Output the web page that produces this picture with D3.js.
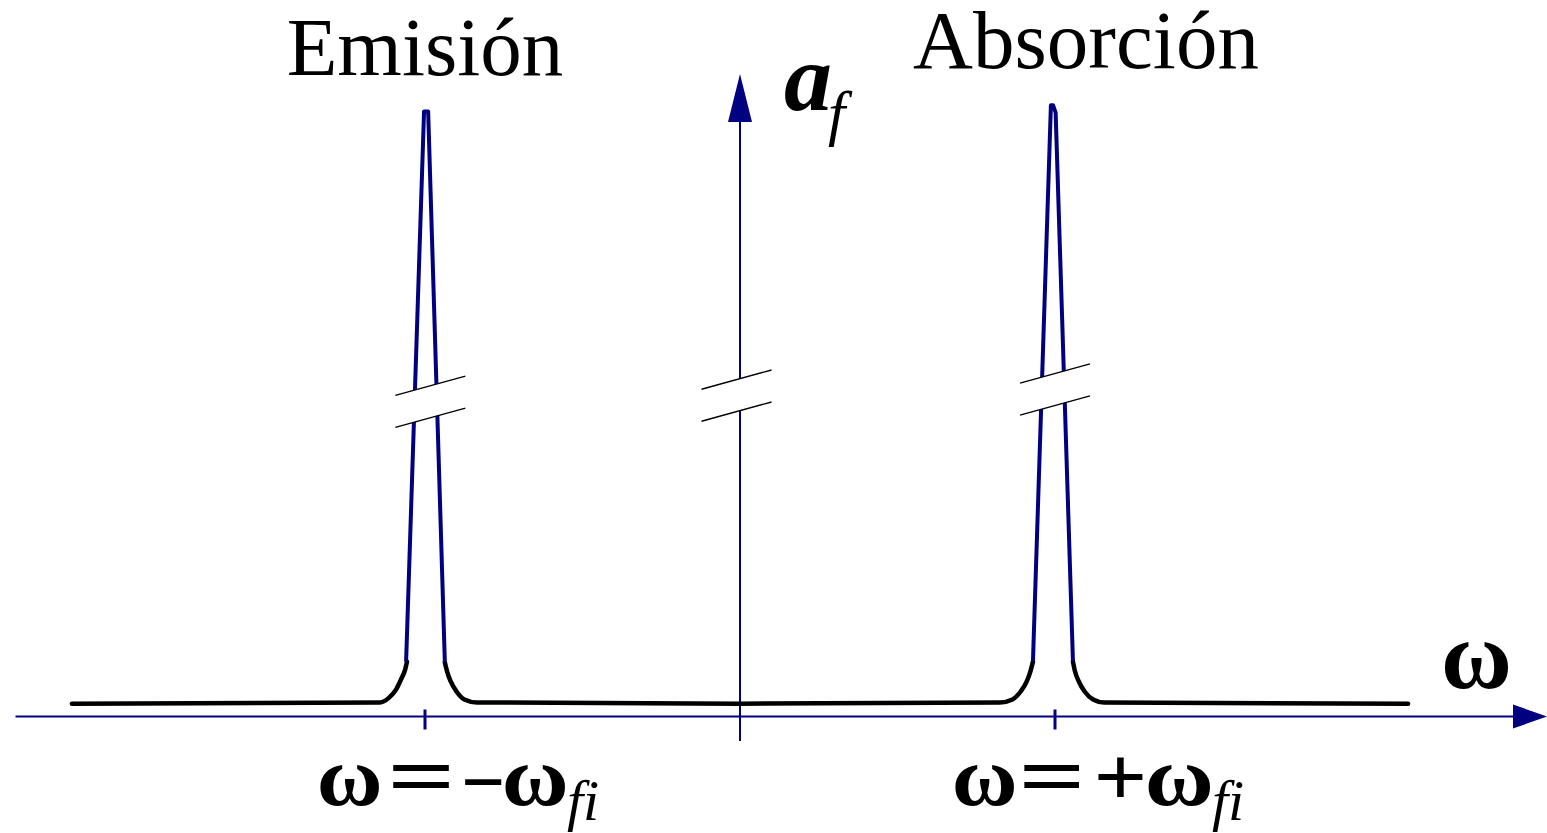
<!DOCTYPE html>
<html>
<head>
<meta charset="utf-8">
<script src="https://cdn.jsdelivr.net/npm/d3@7"></script>
<style>
  html, body { margin: 0; padding: 0; background: #ffffff; }
  svg { display: block; }
  text { font-family: "Liberation Serif", "Times New Roman", serif; fill: #000; }
</style>
</head>
<body>
<svg id="chart" width="1547" height="833"></svg>
<script>
// ω in units of ω_fi; a_f in arbitrary display units (0–100, upper part broken)
const peakCentres = [-1, 1];
const peakTitles = ["Emisión", "Absorción"];

// black Lorentzian-like wings, [ω, a]
const wingLeft = [[-2.121, 2.1], [-1.143, 2.3], [-1.114, 3.1], [-1.092, 4.4], [-1.076, 6.1], [-1.063, 7.7], [-1.057, 9.0]];
const wingMiddle = [[-0.937, 8.9], [-0.930, 7.4], [-0.918, 5.7], [-0.900, 4.1], [-0.875, 2.8], [-0.835, 2.3], [0, 2.1],
                    [0.825, 2.3], [0.865, 2.8], [0.891, 4.1], [0.910, 5.7], [0.922, 7.4], [0.930, 9.0]];
const wingRight = [[1.057, 9.0], [1.063, 7.5], [1.076, 5.7], [1.094, 4.1], [1.121, 2.8], [1.156, 2.3], [2.121, 2.1]];

// blue resonance spikes, [ω, a]
const spikeEmission = [[-1.060, 9.0], [-1.003, 99.2], [-0.990, 99.2], [-0.937, 8.9]];
const spikeAbsorption = [[0.930, 9.0], [0.987, 100.2], [0.994, 100.2], [1.002, 99.0], [1.057, 9.0]];

// where the vertical scale is broken: [ω, a]
const breakMarks = [[-0.983, 51.6], [-0.011, 52.6], [1.0, 53.6]];

const svg = d3.select("#chart");
const navy = "#000080";

const x = d3.scaleLinear().domain([-1, 1]).range([425, 1055]);
const y = d3.scaleLinear().domain([0, 100]).range([716.5, 106.5]);

const line = d3.line().x(d => x(d[0])).y(d => y(d[1]));
const smooth = d3.line().x(d => x(d[0])).y(d => y(d[1])).curve(d3.curveMonotoneX);

// horizontal ω axis with arrow
const axisY = y(0);
svg.append("line")
  .attr("x1", x(-2.3)).attr("x2", 1513)
  .attr("y1", axisY).attr("y2", axisY)
  .attr("stroke", navy).attr("stroke-width", 2.2);
svg.append("path")
  .attr("d", `M1513,${axisY - 12}L1547,${axisY}L1513,${axisY + 12}Z`)
  .attr("fill", navy);
// resonance ticks
svg.selectAll(".tick-mark").data(peakCentres).join("line")
  .attr("class", "tick-mark")
  .attr("x1", d => x(d)).attr("x2", d => x(d))
  .attr("y1", axisY - 7).attr("y2", axisY + 13)
  .attr("stroke", navy).attr("stroke-width", 3);

// vertical a_f axis with arrow
svg.append("line")
  .attr("x1", x(0)).attr("x2", x(0))
  .attr("y1", 741).attr("y2", 121)
  .attr("stroke", navy).attr("stroke-width", 2);
svg.append("path")
  .attr("d", `M${x(0) - 12},122L${x(0)},74L${x(0) + 12},122Z`)
  .attr("fill", navy);

// wings
svg.selectAll(".wing").data([wingLeft, wingMiddle, wingRight]).join("path")
  .attr("class", "wing")
  .attr("d", smooth)
  .attr("fill", "none")
  .attr("stroke", "#000")
  .attr("stroke-width", 4.5)
  .attr("stroke-linecap", "round");

// spikes
svg.selectAll(".spike").data([spikeEmission, spikeAbsorption]).join("path")
  .attr("class", "spike")
  .attr("d", line)
  .attr("fill", "none")
  .attr("stroke", navy)
  .attr("stroke-width", 4)
  .attr("stroke-linejoin", "round");

// scale-break symbols
const half = 35, slope = 0.275, gap = 16;
const brk = svg.selectAll(".brk").data(breakMarks).join("g").attr("class", "brk")
  .attr("transform", d => `translate(${x(d[0])},${y(d[1])})`);
brk.append("path")
  .attr("d", `M${-half},${-gap + half * slope}L${half},${-gap - half * slope}L${half},${gap - half * slope}L${-half},${gap + half * slope}Z`)
  .attr("fill", "#fff");
brk.selectAll("line").data([-gap, gap]).join("line")
  .attr("x1", -half).attr("x2", half)
  .attr("y1", g => g + half * slope).attr("y2", g => g - half * slope)
  .attr("stroke", "#000").attr("stroke-width", 1.4);

// titles above peaks
svg.append("text").attr("x", x(-1)).attr("y", 75)
  .attr("text-anchor", "middle").attr("font-size", 83).text(peakTitles[0]);
svg.append("text").attr("x", x(1) + 31).attr("y", 68)
  .attr("text-anchor", "middle").attr("font-size", 83).text(peakTitles[1]);

// axis labels
svg.append("text").attr("x", 784).attr("y", 110)
  .attr("font-style", "italic").attr("font-weight", "bold").attr("font-size", 96).text("a");
svg.append("text").attr("x", 828).attr("y", 134)
  .attr("font-style", "italic").attr("font-size", 62).text("f");

svg.append("text").attr("x", 1441).attr("y", 688)
  .attr("font-weight", "bold").attr("font-size", 97).text("ω");

// resonance labels ω = ∓ω_fi : [ink start, ink end, glyph, baseline]; each glyph is scaled so its ink fills the span
const labelParts = [
  [[320, 380, "ω", 805], [393, 450, "=", 805], [465, 502, "−", 810], [505, 566, "ω", 805]],
  [[955, 1015, "ω", 805], [1024, 1080, "=", 805], [1098, 1143, "+", 805], [1148, 1211, "ω", 805]]
];
const measure = document.createElement("canvas").getContext("2d");
measure.font = 'bold 84px "Liberation Serif"';
labelParts.forEach(parts => {
  parts.forEach(p => {
    const m = measure.measureText(p[2]);
    const inkLeft = -m.actualBoundingBoxLeft;
    const inkW = m.actualBoundingBoxRight + m.actualBoundingBoxLeft;
    const sx = (p[1] - p[0]) / inkW;
    svg.append("text")
      .attr("font-weight", "bold").attr("font-size", 84)
      .attr("transform", `translate(${p[0] - inkLeft * sx},${p[3]}) scale(${sx},1)`)
      .text(p[2]);
  });
  const last = parts[parts.length - 1];
  svg.append("text").attr("x", last[1] + 1).attr("y", 820)
    .attr("font-style", "italic").attr("font-size", 58).text("fi");
});
</script>
</body>
</html>
